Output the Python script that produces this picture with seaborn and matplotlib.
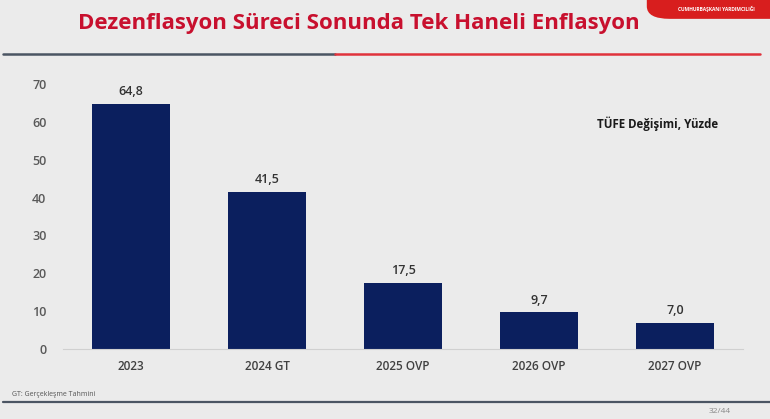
import matplotlib
matplotlib.use("Agg")
import matplotlib.pyplot as plt
import seaborn as sns
import pandas as pd
from matplotlib.patches import FancyBboxPatch
from matplotlib.lines import Line2D

categories = ["2023", "2024 GT", "2025 OVP", "2026 OVP", "2027 OVP"]
values = [64.8, 41.5, 17.5, 9.7, 7.0]
value_labels = ["64,8", "41,5", "17,5", "9,7", "7,0"]
yticks = [0, 10, 20, 30, 40, 50, 60, 70]

bg = "#ebebeb"
sns.set_theme(style="white")
plt.rcParams['font.family'] = ['Open Sans', 'DejaVu Sans']

fig = plt.figure(figsize=(7.70, 4.19), dpi=100, facecolor=bg)
ax = fig.add_axes([0.0818, 0.167, 0.8831, 0.6328])
ax.set_facecolor(bg)

df = pd.DataFrame({"cat": categories, "val": values})
sns.barplot(data=df, x="cat", y="val", color="#0b1f5e", width=0.57, ax=ax,
            saturation=1, edgecolor="none")

ax.set_ylim(0, 70)
ax.set_xlim(-0.5, 4.5)
ax.set_yticks(yticks)
ax.set_yticklabels([str(t) for t in yticks], color="#595959", fontsize=9, fontweight="semibold")
ax.set_xticks(range(len(categories)))
ax.set_xticklabels(categories, color="#404040", fontsize=8.5, fontweight="semibold")
ax.tick_params(axis="y", length=0, pad=12)
ax.tick_params(axis="x", length=0, pad=8)
ax.set_xlabel("")
ax.set_ylabel("")
for s in ["top", "right", "left"]:
    ax.spines[s].set_visible(False)
ax.spines["bottom"].set_color("#d0d0d0")
ax.spines["bottom"].set_linewidth(0.8)

for i, (v, lab) in enumerate(zip(values, value_labels)):
    ax.annotate(lab, (i, v), xytext=(0, 4), textcoords="offset points",
                ha="center", va="bottom", fontsize=9, color="#333333", fontweight="semibold")

ax.text(0.963, 0.85, "TÜFE Değişimi, Yüzde", transform=ax.transAxes, ha="right",
        va="center", fontsize=8.3, fontweight="bold", color="#1a1a1a")

# Title
fig.text(0.466, 0.945, "Dezenflasyon Süreci Sonunda Tek Haneli Enflasyon",
         ha="center", va="center", fontsize=16, fontweight="bold", color="#c8102e")

# header lines
fig.add_artist(Line2D([0.004, 0.435], [0.871, 0.871], color="#4b5563", lw=1.8))
fig.add_artist(Line2D([0.435, 0.987], [0.871, 0.871], color="#e0323c", lw=1.8))

# logo badge top right
badge = FancyBboxPatch((0.84, 0.955), 0.2, 0.1, boxstyle="round,pad=0,rounding_size=0.03",
                       transform=fig.transFigure, facecolor="#d81e1e", edgecolor="none")
fig.add_artist(badge)
fig.text(0.88, 0.978, "CUMHURBAŞKANI YARDIMCILIĞI", fontsize=3.5, color="white",
         fontweight="bold", ha="left", va="center")

# footer
fig.add_artist(Line2D([0.004, 1.0], [0.04, 0.04], color="#4b5563", lw=1.6))
fig.text(0.016, 0.059, "GT: Gerçekleşme Tahmini", fontsize=5, color="#555555",
         ha="left", va="center")
fig.text(0.935, 0.017, "32/44", fontsize=6, color="#888888", ha="center", va="center")

fig.savefig("out.png", dpi=100, facecolor=bg)
